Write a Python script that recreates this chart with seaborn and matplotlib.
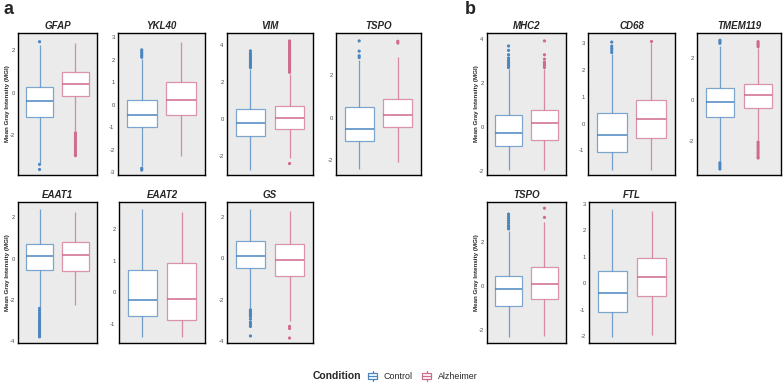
import pandas as pd
import matplotlib
matplotlib.use("Agg")
import matplotlib.pyplot as plt
from matplotlib.colors import to_rgba
from matplotlib.patches import Patch, Rectangle
from matplotlib.lines import Line2D
from matplotlib.legend_handler import HandlerBase
import seaborn as sns

# Panel names (row by row, a then b)
PANELS = ["GFAP", "YKL40", "VIM", "TSPO", "MHC2", "CD68", "TMEM119",
          "EAAT1", "EAAT2", "GS", "TSPO", "FTL"]
CONDITIONS = ["Control", "Alzheimer"]
COLORS = ["#4A85C0", "#D06A8C"]

# Box summaries: [lower whisker, Q1, median, Q3, upper whisker]
CONTROL_BOX = [
    [-3.30, -1.15, -0.38, 0.27, 2.22],
    [-2.72, -0.98, -0.43, 0.24, 2.05],
    [-2.76, -0.94, -0.23, 0.52, 2.70],
    [-2.42, -1.08, -0.53, 0.49, 2.70],
    [-1.95, -0.84, -0.24, 0.55, 2.65],
    [-1.72, -1.05, -0.41, 0.40, 2.60],
    [-2.95, -0.84, -0.12, 0.58, 2.60],
    [-2.35, -0.53, 0.14, 0.70, 2.42],
    [-1.42, -0.74, -0.25, 0.70, 2.63],
    [-2.42, -0.49, 0.08, 0.83, 2.37],
    [-2.33, -0.93, -0.15, 0.44, 2.50],
    [-2.05, -1.09, -0.38, 0.45, 2.80],
]
ALZHEIMER_BOX = [
    [-1.82, -0.18, 0.41, 0.95, 2.35],
    [-2.26, -0.45, 0.24, 1.03, 2.81],
    [-2.10, -0.56, 0.04, 0.67, 2.45],
    [-2.10, -0.45, 0.14, 0.89, 2.86],
    [-1.95, -0.59, 0.18, 0.77, 2.65],
    [-1.72, -0.53, 0.17, 0.89, 3.00],
    [-1.95, -0.39, 0.21, 0.78, 2.50],
    [-2.27, -0.58, 0.19, 0.80, 2.25],
    [-1.42, -0.87, -0.20, 0.91, 2.52],
    [-3.05, -0.87, -0.08, 0.68, 2.27],
    [-2.29, -0.59, 0.09, 0.86, 2.90],
    [-1.95, -0.47, 0.23, 0.95, 2.75],
]

# Outlier points
CONTROL_OUT = [
    [2.39, -3.38, -3.62],
    [2.12, 2.20, 2.28, 2.36, 2.45, -2.82, -2.90],
    [2.78, 2.86, 2.95, 3.05, 3.15, 3.25, 3.35, 3.45, 3.55, 3.68],
    [2.82, 2.90, 3.12, 3.60],
    [2.72, 2.80, 2.88, 2.96, 3.05, 3.15, 3.30, 3.50, 3.70],
    [2.66, 2.74, 2.82, 2.90, 3.05],
    [2.72, 2.80, 2.87, -3.05, -3.15, -3.25, -3.35],
    [-2.42, -2.52, -2.62, -2.72, -2.82, -2.92, -3.02, -3.12, -3.22, -3.32,
     -3.42, -3.52, -3.62, -3.72, -3.80],
    [],
    [-2.50, -2.58, -2.66, -2.74, -2.82, -2.95, -3.10, -3.20, -3.30, -3.76],
    [2.58, 2.66, 2.74, 2.85, 2.95, 3.05, 3.15, 3.25],
    [],
]
ALZHEIMER_OUT = [
    [-1.90, -2.00, -2.10, -2.20, -2.30, -2.40, -2.50, -2.60, -2.70, -2.80,
     -2.90, -2.97],
    [],
    [-2.42, 2.52, 2.62, 2.72, 2.82, 2.92, 3.02, 3.12, 3.22, 3.32, 3.42, 3.52,
     3.62, 3.72, 3.82, 3.92, 4.02, 4.12, 4.22],
    [3.50, 3.58],
    [2.72, 2.80, 2.88, 2.96, 3.10, 3.30, 3.93],
    [3.08],
    [2.56, 2.64, 2.72, 2.80, -2.05, -2.15, -2.25, -2.35, -2.45, -2.55,
     -2.65, -2.75, -2.82],
    [],
    [],
    [-3.30, -3.40, -3.86],
    [3.10, 3.52],
    [],
]

Y_LIMITS = [(-3.88, 2.80), (-3.12, 3.20), (-3.04, 4.65), (-2.69, 3.97),
            (-2.17, 4.29), (-1.92, 3.39), (-3.64, 3.22), (-4.10, 2.75),
            (-1.60, 2.85), (-4.10, 2.71), (-2.60, 3.80), (-2.27, 3.08)]
Y_TICKS = [[-2, 0, 2], [-3, -2, -1, 0, 1, 2, 3], [-2, 0, 2, 4], [-2, 0, 2],
           [-2, 0, 2, 4], [-1, 0, 1, 2, 3], [-2, 0, 2], [-4, -2, 0, 2],
           [-1, 0, 1, 2], [-4, -2, 0, 2], [-2, 0, 2], [-2, -1, 0, 1, 2, 3]]

# panel boxes in pixels: (left, right, top, bottom)
ROW1 = (33, 175)
ROW2 = (202, 343)
PANEL_PX = [(18, 97) + ROW1, (118, 205) + ROW1, (227, 313) + ROW1,
            (336, 421) + ROW1, (487, 566) + ROW1, (588, 675) + ROW1,
            (697, 781) + ROW1,
            (18, 97) + ROW2, (119, 205) + ROW2, (227, 313) + ROW2,
            (487, 566) + ROW2, (589, 675) + ROW2]
YLABEL_PANELS = {0, 4, 7, 10}

W, H = 784, 384


class BoxKeyHandler(HandlerBase):
    """Little boxplot glyph for the legend keys (ggplot style)."""

    def create_artists(self, legend, orig_handle, xdescent, ydescent,
                       width, height, fontsize, trans):
        col = orig_handle.get_edgecolor()
        x0, y0 = -xdescent, -ydescent
        xm = x0 + width / 2
        box = Rectangle((x0 + 0.1 * width, y0 + 0.2 * height),
                        0.8 * width, 0.6 * height, facecolor="white",
                        edgecolor=col, linewidth=0.9, transform=trans)
        med = Line2D([x0 + 0.1 * width, x0 + 0.9 * width],
                     [y0 + 0.5 * height] * 2, color=col, linewidth=0.9,
                     transform=trans)
        lo = Line2D([xm, xm], [y0, y0 + 0.2 * height], color=col,
                    linewidth=0.9, transform=trans)
        hi = Line2D([xm, xm], [y0 + 0.8 * height, y0 + height], color=col,
                    linewidth=0.9, transform=trans)
        return [box, med, lo, hi]


sns.set_style("white")
plt.rcParams["font.family"] = ["Liberation Sans", "DejaVu Sans"]
plt.rcParams["axes.unicode_minus"] = False

palette = dict(zip(CONDITIONS, COLORS))
fig = plt.figure(figsize=(W / 100, H / 100), dpi=100)

for i, name in enumerate(PANELS):
    left, right, top, bottom = PANEL_PX[i]
    ax = fig.add_axes([left / W, 1 - bottom / H, (right - left) / W,
                       (bottom - top) / H])
    ax.set_facecolor("#EBEBEB")

    box_df = pd.DataFrame({
        "panel": name,
        "condition": ["Control"] * 5 + ["Alzheimer"] * 5,
        "value": CONTROL_BOX[i] + ALZHEIMER_BOX[i],
    })
    out_df = pd.DataFrame({
        "panel": name,
        "condition": ["Control"] * len(CONTROL_OUT[i])
        + ["Alzheimer"] * len(ALZHEIMER_OUT[i]),
        "value": CONTROL_OUT[i] + ALZHEIMER_OUT[i],
    })

    for cond, col in zip(CONDITIONS, COLORS):
        sub = box_df[box_df["condition"] == cond]
        sns.boxplot(
            data=sub, x="panel", y="value", hue="condition",
            hue_order=CONDITIONS, palette=palette, dodge=True,
            width=0.8, gap=0.25, whis=(0, 100), showfliers=False,
            showcaps=False, linecolor=col, linewidth=0.9,
            boxprops=dict(facecolor="white", edgecolor=to_rgba(col, 0.7)),
            whiskerprops=dict(color=to_rgba(col, 0.75)),
            medianprops=dict(color=col, linewidth=1.1),
            legend=False, ax=ax,
        )

    if len(out_df):
        sns.stripplot(
            data=out_df, x="panel", y="value", hue="condition",
            hue_order=CONDITIONS, palette=palette, dodge=True, jitter=False,
            size=2.3, linewidth=0, legend=False, ax=ax,
        )

    ax.set_xlim(-0.44, 0.44)
    ax.set_ylim(*Y_LIMITS[i])
    ax.set_yticks(Y_TICKS[i])
    ax.set_xticks([])
    ax.set_xlabel("")
    ax.set_ylabel("")
    ax.tick_params(axis="y", labelsize=4.2, colors="#4D4D4D", length=1.5,
                   width=0.5, pad=1)
    for s in ax.spines.values():
        s.set_color("black")
        s.set_linewidth(1.0)
    ax.set_title(name, fontsize=7, fontweight="bold", fontstyle="italic",
                 pad=3)
    if i in YLABEL_PANELS:
        ax.set_ylabel("Mean Gray Intensity (MGI)", fontsize=4.5,
                      fontweight="bold")
        ax.yaxis.set_label_coords(-8 / (right - left), 0.5)

fig.text(4 / W, 1 - 10 / H, "a", fontsize=13, fontweight="bold",
         ha="left", va="center")
fig.text(465 / W, 1 - 10 / H, "b", fontsize=13, fontweight="bold",
         ha="left", va="center")

fig.text(313 / W, 1 - 376 / H, "Condition", fontsize=7.5, fontweight="bold",
         ha="left", va="center")
handles = [Patch(facecolor="white", edgecolor=c) for c in COLORS]
fig.legend(handles, CONDITIONS, loc="center left",
           bbox_to_anchor=(367 / W, 1 - 376 / H), ncol=2, frameon=False,
           fontsize=6.4, handlelength=1.3, handleheight=1.3,
           handletextpad=0.6, columnspacing=0.9, borderaxespad=0,
           borderpad=0, handler_map={Patch: BoxKeyHandler()})

fig.savefig("out.png", dpi=100)
